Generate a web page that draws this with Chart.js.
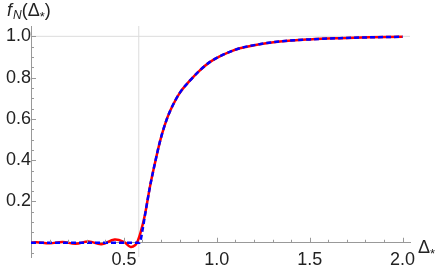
<!DOCTYPE html>
<html>
<head>
<meta charset="utf-8">
<script src="https://cdn.jsdelivr.net/npm/chart.js@4.4.0/dist/chart.umd.min.js"></script>
<style>
  html, body { margin: 0; padding: 0; background: #fff; }
</style>
</head>
<body>
<canvas id="myChart" width="441" height="271"></canvas>
<script>
// dati
var deltaRed = [0, 0.03, 0.10, 0.17, 0.24, 0.31, 0.38, 0.45, 0.50, 0.535, 0.56, 0.575, 0.59, 0.613, 0.64, 0.667, 0.694, 0.72, 0.747, 0.80, 0.855, 0.909, 0.962, 1.016, 1.07, 1.124, 1.23, 1.34, 1.50, 1.66, 1.82, 2.0];
var fRed = [0, 0.003, -0.003, 0.004, -0.005, 0.006, -0.007, 0.016, 0.004, -0.02, -0.012, 0.01, 0.05, 0.135, 0.27, 0.385, 0.49, 0.57, 0.635, 0.725, 0.785, 0.835, 0.875, 0.903, 0.925, 0.942, 0.962, 0.975, 0.985, 0.991, 0.995, 0.998];

var deltaBlue = [0, 0.585, 0.60, 0.613, 0.64, 0.667, 0.694, 0.72, 0.747, 0.80, 0.855, 0.909, 0.962, 1.016, 1.07, 1.124, 1.23, 1.34, 1.50, 1.66, 1.82, 2.0];
var fBlue = [0, 0, 0.06, 0.13, 0.27, 0.385, 0.49, 0.57, 0.635, 0.725, 0.785, 0.835, 0.875, 0.903, 0.925, 0.942, 0.962, 0.975, 0.985, 0.991, 0.995, 0.998];

var xTicks = [0.1, 0.2, 0.3, 0.4, 0.5, 0.6, 0.7, 0.8, 0.9, 1.0, 1.1, 1.2, 1.3, 1.4, 1.5, 1.6, 1.7, 1.8, 1.9, 2.0];
var xLabels = [0.5, 1.0, 1.5, 2.0];
var yTicks = [-0.05, 0.05, 0.1, 0.15, 0.2, 0.25, 0.3, 0.35, 0.4, 0.45, 0.5, 0.55, 0.6, 0.65, 0.7, 0.75, 0.8, 0.85, 0.9, 0.95, 1.0];
var yLabels = [0.2, 0.4, 0.6, 0.8, 1.0];

var xMin = 0, xMax = 2.04, yMin = -0.07, yMax = 1.05;
var soglia = 0.58;

function toPoints(xs, ys) {
  var pts = [];
  for (var i = 0; i < xs.length; i++) {
    pts.push({x: xs[i], y: ys[i]});
  }
  return pts;
}

function isLabel(v, list) {
  for (var i = 0; i < list.length; i++) {
    if (Math.abs(list[i] - v) < 1e-6) return true;
  }
  return false;
}

var fontFamily = "'Liberation Sans', Arial, sans-serif";

// tacche interne stile Mathematica + etichette degli assi
var decorPlugin = {
  id: 'decor',
  afterDraw: function(chart) {
    var ctx = chart.ctx;
    var xs = chart.scales.x, ys = chart.scales.y;
    var x0 = xs.getPixelForValue(0), y0 = ys.getPixelForValue(0);
    ctx.save();
    ctx.strokeStyle = '#999';
    ctx.lineWidth = 1;
    ctx.beginPath();
    xTicks.forEach(function(v) {
      var p = Math.round(xs.getPixelForValue(v)) + 0.5;
      var len = isLabel(v, xLabels) ? 5 : 3;
      ctx.moveTo(p, y0);
      ctx.lineTo(p, y0 - len);
    });
    yTicks.forEach(function(v) {
      var p = Math.round(ys.getPixelForValue(v)) + 0.5;
      var len = isLabel(v, yLabels) ? 5 : 3;
      ctx.moveTo(x0, p);
      ctx.lineTo(x0 + len, p);
    });
    ctx.stroke();

    ctx.fillStyle = '#222';
    // titolo asse y: f_N(Δ_*)
    ctx.textBaseline = 'alphabetic';
    ctx.textAlign = 'left';
    var x = 7, y = 16;
    ctx.font = 'italic 18px ' + fontFamily;
    ctx.fillText('f', x, y); x += ctx.measureText('f').width + 1;
    ctx.font = 'italic 12px ' + fontFamily;
    ctx.fillText('N', x, y + 3); x += ctx.measureText('N').width;
    ctx.font = '18px ' + fontFamily;
    ctx.fillText('(\u0394', x, y); x += ctx.measureText('(\u0394').width;
    ctx.font = '13px ' + fontFamily;
    ctx.fillText('*', x, y + 5); x += ctx.measureText('*').width;
    ctx.font = '18px ' + fontFamily;
    ctx.fillText(')', x, y);

    // titolo asse x: Δ_*
    x = 418; y = 253;
    ctx.font = '18px ' + fontFamily;
    ctx.fillText('\u0394', x, y); x += ctx.measureText('\u0394').width;
    ctx.font = '13px ' + fontFamily;
    ctx.fillText('*', x, y + 5);
    ctx.restore();
  }
};

var ctx = document.getElementById('myChart').getContext('2d');
var chart = new Chart(ctx, {
  type: 'line',
  data: {
    datasets: [{
      data: toPoints([soglia, soglia], [yMin, yMax]),
      borderColor: '#dcdcdc',
      borderWidth: 1,
      pointRadius: 0,
      order: 4
    }, {
      data: toPoints([xMin, xMax], [1, 1]),
      borderColor: '#dcdcdc',
      borderWidth: 1,
      pointRadius: 0,
      order: 3
    }, {
      label: 'red',
      data: toPoints(deltaRed, fRed),
      borderColor: '#ff0000',
      borderWidth: 2.5,
      pointRadius: 0,
      tension: 0.4,
      order: 2
    }, {
      label: 'blue',
      data: toPoints(deltaBlue, fBlue),
      borderColor: '#0000ff',
      borderWidth: 2.5,
      borderDash: [5, 3],
      pointRadius: 0,
      cubicInterpolationMode: 'monotone',
      order: 1
    }]
  },
  options: {
    responsive: false,
    animation: false,
    layout: {
      padding: { left: 31, right: 31, top: 26, bottom: 8 }
    },
    plugins: {
      legend: { display: false },
      tooltip: { enabled: false }
    },
    scales: {
      x: {
        type: 'linear',
        position: { y: 0 },
        min: xMin,
        max: xMax,
        afterBuildTicks: function(scale) {
          scale.ticks = xLabels.map(function(v) { return {value: v}; });
        },
        grid: { display: false, drawTicks: false },
        border: { display: true, color: '#999', width: 1 },
        ticks: {
          padding: 6,
          maxRotation: 0,
          autoSkip: false,
          color: '#222',
          font: { family: fontFamily, size: 18 },
          callback: function(v) { return v.toFixed(1); }
        }
      },
      y: {
        type: 'linear',
        position: { x: 0 },
        min: yMin,
        max: yMax,
        afterBuildTicks: function(scale) {
          scale.ticks = yLabels.map(function(v) { return {value: v}; });
        },
        grid: { display: false, drawTicks: false },
        border: { display: true, color: '#999', width: 1 },
        ticks: {
          padding: 3,
          autoSkip: false,
          color: '#222',
          font: { family: fontFamily, size: 18 },
          callback: function(v) { return v.toFixed(1); }
        }
      }
    }
  },
  plugins: [decorPlugin]
});
</script>
</body>
</html>
